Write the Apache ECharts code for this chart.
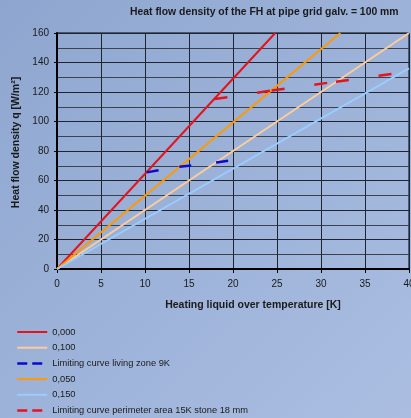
<!DOCTYPE html>
<html>
<head>
<meta charset="utf-8">
<script src="https://cdn.jsdelivr.net/npm/echarts@6/dist/echarts.min.js"></script>
<style>
html,body{margin:0;padding:0;}
#c{width:411px;height:418px;}
</style>
</head>
<body>
<div id="c"></div>
<script>
// ---- data ----
const xTicks = [0, 5, 10, 15, 20, 25, 30, 35, 40];
const yTicks = [0, 20, 40, 60, 80, 100, 120, 140, 160];
const names = ['0,000', '0,100', 'Limiting curve living zone 9K', '0,050', '0,150', 'Limiting curve perimeter area 15K stone 18 mm'];
const line000 = [[0, 0], [24.8, 160]];
const line050 = [[0, 0], [32.2, 160]];
const line100 = [[0, 0], [40, 160]];
const line150 = [[0, 0], [40, 136]];
const livingZone9K = [[10.2, 65.5], [13.9, 69.3], null, [13.9, 69.3], [18.1, 72.2], null, [18.1, 72.2], [19.5, 73.4]];
const perimeter15K = [[17.9, 115.2], [24.4, 121.0], null, [24.4, 121.0], [31.7, 127.0], null, [31.7, 127.0], [39.0, 133.0]];

const chart = echarts.init(document.getElementById('c'), null, {renderer: 'canvas'});
const txt = '#1a1a1a';
const font = 'Liberation Sans, Arial, sans-serif';

function mk(name, data, color, width, dash, z) {
  return {
    name: name, type: 'line', data: data, symbol: 'none', connectNulls: false, z: z || 2,
    lineStyle: {color: color, width: width, type: dash || 'solid', cap: 'butt'},
    itemStyle: {color: color}, clip: true, animation: false
  };
}

chart.setOption({
  animation: false,
  backgroundColor: {type: 'linear', x: 0, y: 0, x2: 1, y2: 1,
    colorStops: [{offset: 0, color: '#8ea6cf'}, {offset: 1, color: '#abbee2'}]},
  title: {
    text: 'Heat flow density of the FH at pipe grid galv. = 100 mm',
    left: 130, top: 7.5, padding: 0,
    textStyle: {fontFamily: font, fontSize: 10.4, fontWeight: 'bold', color: txt}
  },
  grid: {left: 57, right: 2, top: 33, bottom: 149, show: true, borderColor: '#000', borderWidth: 1,
    backgroundColor: 'transparent', outerBoundsMode: 'none', containLabel: false},
  xAxis: {
    type: 'value', min: 0, max: 40, interval: 5,
    name: 'Heating liquid over temperature [K]', nameLocation: 'middle', nameGap: 31,
    nameTextStyle: {fontFamily: font, fontSize: 10.5, fontWeight: 'bold', color: txt, padding: [0, 0, 0, 40]},
    axisLine: {show: true, onZero: false, lineStyle: {color: '#000', width: 2}},
    axisTick: {show: true, length: 4, lineStyle: {color: '#000'}},
    axisLabel: {fontFamily: font, fontSize: 10, color: txt, margin: 10, showMaxLabel: true, hideOverlap: false},
    splitLine: {show: true, lineStyle: {color: '#1e2530', width: 1}}
  },
  yAxis: {
    type: 'value', min: 0, max: 160, interval: 20,
    name: 'Heat flow density q [W/m²]', nameLocation: 'middle', nameGap: 34,
    nameTextStyle: {fontFamily: font, fontSize: 10.5, fontWeight: 'bold', color: txt, padding: [0, 0, 0, 17]},
    axisLine: {show: true, onZero: false, lineStyle: {color: '#000', width: 2}},
    axisTick: {show: true, length: 3, lineStyle: {color: '#000'}},
    axisLabel: {fontFamily: font, fontSize: 10, color: txt, margin: 8},
    splitLine: {show: true, lineStyle: {color: '#1e2530', width: 1}},
    minorTick: {show: false, splitNumber: 2},
    minorSplitLine: {show: true, lineStyle: {color: '#3a4250', width: 1}}
  },
  legend: {
    orient: 'vertical', left: 16, top: 327, padding: 0, itemWidth: 30, itemHeight: 10, itemGap: 5.7,
    itemStyle: {opacity: 0},
    textStyle: {fontFamily: font, fontSize: 9.3, color: txt, lineHeight: 10},
    data: [
      {name: names[0]},
      {name: names[1]},
      {name: names[2], lineStyle: {type: [10, 5], width: 2.5}},
      {name: names[3]},
      {name: names[4]},
      {name: names[5], lineStyle: {type: [10, 5], width: 2.5}}
    ]
  },
  series: [
    mk(names[0], line000, '#e3141c', 2),
    mk(names[1], line100, '#ffcc99', 2),
    mk(names[2], livingZone9K, '#0a0acc', 2.5, [12, 25], 5),
    mk(names[3], line050, '#ff9900', 2),
    mk(names[4], line150, '#99ccff', 2),
    mk(names[5], perimeter15K, '#e3141c', 2.5, [13, 30], 5)
  ]
});
</script>
</body>
</html>
